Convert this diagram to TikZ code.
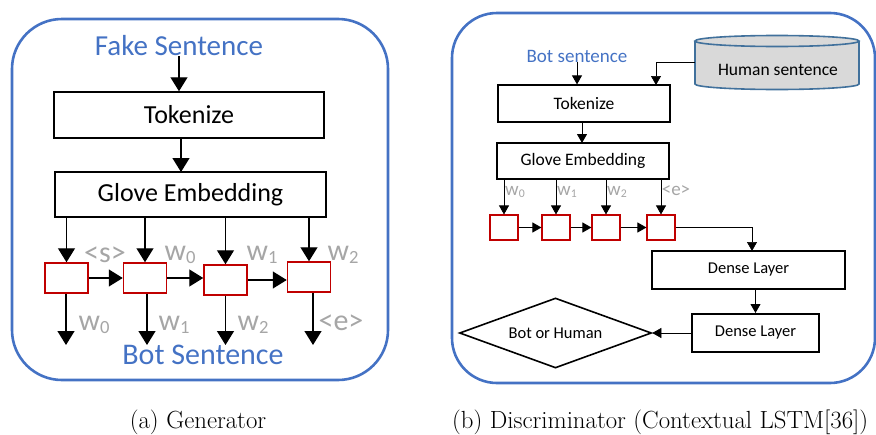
\documentclass[tikz,border=0pt]{standalone}
\usepackage{fontspec}
\usetikzlibrary{arrows.meta,shapes.geometric,calc}
\newfontfamily\calib{Carlito}
\definecolor{panelblue}{HTML}{4472C4}
\definecolor{cellred}{HTML}{C00000}
\definecolor{lblgray}{HTML}{A6A6A6}
\definecolor{cylborder}{HTML}{41719C}
\definecolor{cylfill}{HTML}{D9D9D9}
\newcommand{\wsub}[1]{w\raisebox{-0.1em}{\scalebox{0.62}{#1}}}
\tikzset{
  panel/.style={draw=panelblue, line width=2.6pt},
  bigbox/.style={draw=black, line width=1.5pt, fill=white, inner sep=0pt, font=\calib\fontsize{26}{30}\selectfont},
  smallbox/.style={draw=black, line width=1.2pt, fill=white, inner sep=0pt, font=\calib\fontsize{17.5}{20}\selectfont},
  densebox/.style={draw=black, line width=2pt, fill=white, inner sep=0pt, font=\calib\fontsize{16.5}{19}\selectfont},
  bigcell/.style={draw=cellred, line width=1.5pt, fill=white, minimum width=43pt, minimum height=30pt, inner sep=0pt},
  smallcell/.style={draw=cellred, line width=1.1pt, fill=white, minimum width=28pt, minimum height=25pt, inner sep=0pt},
  bluetxt/.style={text=panelblue, inner sep=0pt},
  biglbl/.style={text=lblgray, inner sep=0pt, font=\calib\fontsize{30}{32}\selectfont},
  smalllbl/.style={text=lblgray, inner sep=0pt, font=\calib\fontsize{19}{21}\selectfont},
  bigarrow/.style={-{Triangle[width=17pt,length=14pt]}, line width=1.3pt, black},
  smallarrow/.style={-{Triangle[width=10pt,length=9pt]}, line width=0.9pt, black},
  captxt/.style={inner sep=0pt, font=\fontsize{24.8}{28}\selectfont},
}
\begin{document}
\begin{tikzpicture}[x=1pt,y=1pt]
\useasboundingbox (0,0) rectangle (876,-434);
% ---------- (a) Generator ----------
\draw[panel, rounded corners=50pt] (12,-19) rectangle (388,-380);
\node[bluetxt, font=\calib\fontsize{29}{32}\selectfont] (fake) at (179,-46) {Fake Sentence};
\node[bigbox, minimum width=270pt, minimum height=46pt] (tokA) at (189,-115) {Tokenize};
\node[bigbox, minimum width=271pt, minimum height=45pt] (gloveA) at (190.5,-194.5) {Glove Embedding};
\draw[bigarrow] (fake.south) -- (fake.south |- tokA.north);
\draw[bigarrow] (181,-138) -- (181,-172);
\node[bigcell] (a1) at (66.5,-278) {};
\node[bigcell] (a2) at (145,-278) {};
\node[bigcell] (a3) at (225.5,-280) {};
\node[bigcell] (a4) at (309,-277) {};
\foreach \c in {a1,a2,a3,a4} {
  \draw[bigarrow] (\c.north |- gloveA.south) -- (\c.north);
}
\node[biglbl] (ls) at (105,-255) {<s>};
\node[biglbl] (lw0) at (180,-255) {\wsub{0}};
\node[biglbl] (lw1) at (262,-255) {\wsub{1}};
\node[biglbl] (lw2) at (343,-255) {\wsub{2}};
\draw[bigarrow] (a1.east) -- (a2.west);
\draw[bigarrow] (a2.east) -- (a3.west |- a2.east);
\draw[bigarrow] (a3.east) -- (a4.west |- a3.east);
\coordinate (o1) at (66,-345);
\coordinate (o2) at (147,-345);
\coordinate (o3) at (225.5,-345);
\coordinate (o4) at (313,-345);
\draw[bigarrow] (a1.south -| o1) -- (o1);
\draw[bigarrow] (a2.south -| o2) -- (o2);
\draw[bigarrow] (a3.south) -- (o3);
\draw[bigarrow] (a4.south -| o4) -- (o4);
\node[biglbl] (ow0) at (94,-325) {\wsub{0}};
\node[biglbl] (ow1) at (174,-325) {\wsub{1}};
\node[biglbl] (ow2) at (253,-325) {\wsub{2}};
\node[biglbl] (oe) at (341,-323) {<e>};
\node[bluetxt, font=\calib\fontsize{30}{32}\selectfont] (bot) at (203,-355) {Bot Sentence};
\node[captxt] (capa) at (198,-422) {(a) Generator};
% ---------- (b) Discriminator ----------
\draw[panel, rounded corners=45pt] (452,-13) rectangle (875,-383);
\node[bluetxt, font=\calib\fontsize{19}{22}\selectfont] (bots) at (577,-56) {Bot sentence};
\node[smallbox, minimum width=172pt, minimum height=37pt] (tokB) at (584,-103.5) {Tokenize};
\node[smallbox, minimum width=172pt, minimum height=36pt] (gloveB) at (583,-161) {Glove Embedding};
% cylinder
\fill[cylfill] (695,-41) -- (695,-84) arc (180:360:82pt and 5.5pt) -- (859,-41) arc (0:180:82pt and 5.5pt) -- cycle;
\draw[cylborder, line width=1.6pt] (695,-41) -- (695,-84) arc (180:360:82pt and 5.5pt) -- (859,-41);
\draw[cylborder, line width=1.6pt, fill=cylfill] (777,-41) ellipse (82pt and 5.5pt);
\node[minimum width=164pt, minimum height=53pt, inner sep=0pt] (hum) at (777,-62.5) {};
\node[inner sep=0pt, font=\calib\fontsize{17.5}{20}\selectfont] (humtxt) at (778,-70) {Human sentence};
\coordinate (tokin) at (656,-85);
\draw[smallarrow] (bots.south) -- (bots.south |- tokB.north);
\draw[smallarrow, line width=0.7pt] (hum.west) -| (tokin);
\draw[smallarrow] (582,-122) -- (582,-143);
\node[smallcell] (b1) at (504,-227.5) {};
\node[smallcell] (b2) at (556,-227.5) {};
\node[smallcell] (b3) at (606,-227.5) {};
\node[smallcell] (b4) at (661,-227.5) {};
\foreach \c in {b1,b2,b3,b4} {
  \draw[smallarrow, line width=0.7pt] (\c.north |- gloveB.south) -- (\c.north);
}
\node[smalllbl] (bw0) at (515,-192) {\wsub{0}};
\node[smalllbl] (bw1) at (567,-192) {\wsub{1}};
\node[smalllbl] (bw2) at (617,-192) {\wsub{2}};
\node[smalllbl] (be) at (676,-191) {<e>};
\draw[smallarrow] (b1.east) -- (b2.west);
\draw[smallarrow] (b2.east) -- (b3.west);
\draw[smallarrow] (b3.east) -- (b4.west);
\node[densebox, minimum width=193pt, minimum height=38pt] (d1) at (748.5,-270) {Dense Layer};
\node[densebox, minimum width=127pt, minimum height=38pt] (d2) at (755.5,-333) {Dense Layer};
\coordinate (d1in) at (752,-251);
\draw[smallarrow, line width=0.6pt] (b4.east) -| (d1in);
\draw[smallarrow] (d2.north |- d1.south) -- (d2.north);
\node[draw=black, line width=1.6pt, shape=diamond, aspect=2.74, minimum width=192pt, minimum height=70pt, inner sep=0pt, font=\calib\fontsize{16.5}{19}\selectfont] (dec) at (555.5,-333) {Bot or Human};
\draw[smallarrow, line width=0.6pt] (d2.west) -- (dec.east);
\node[captxt, anchor=west] (capb) at (452,-422) {(b) Discriminator (Contextual LSTM[36])};
\end{tikzpicture}
\end{document}
